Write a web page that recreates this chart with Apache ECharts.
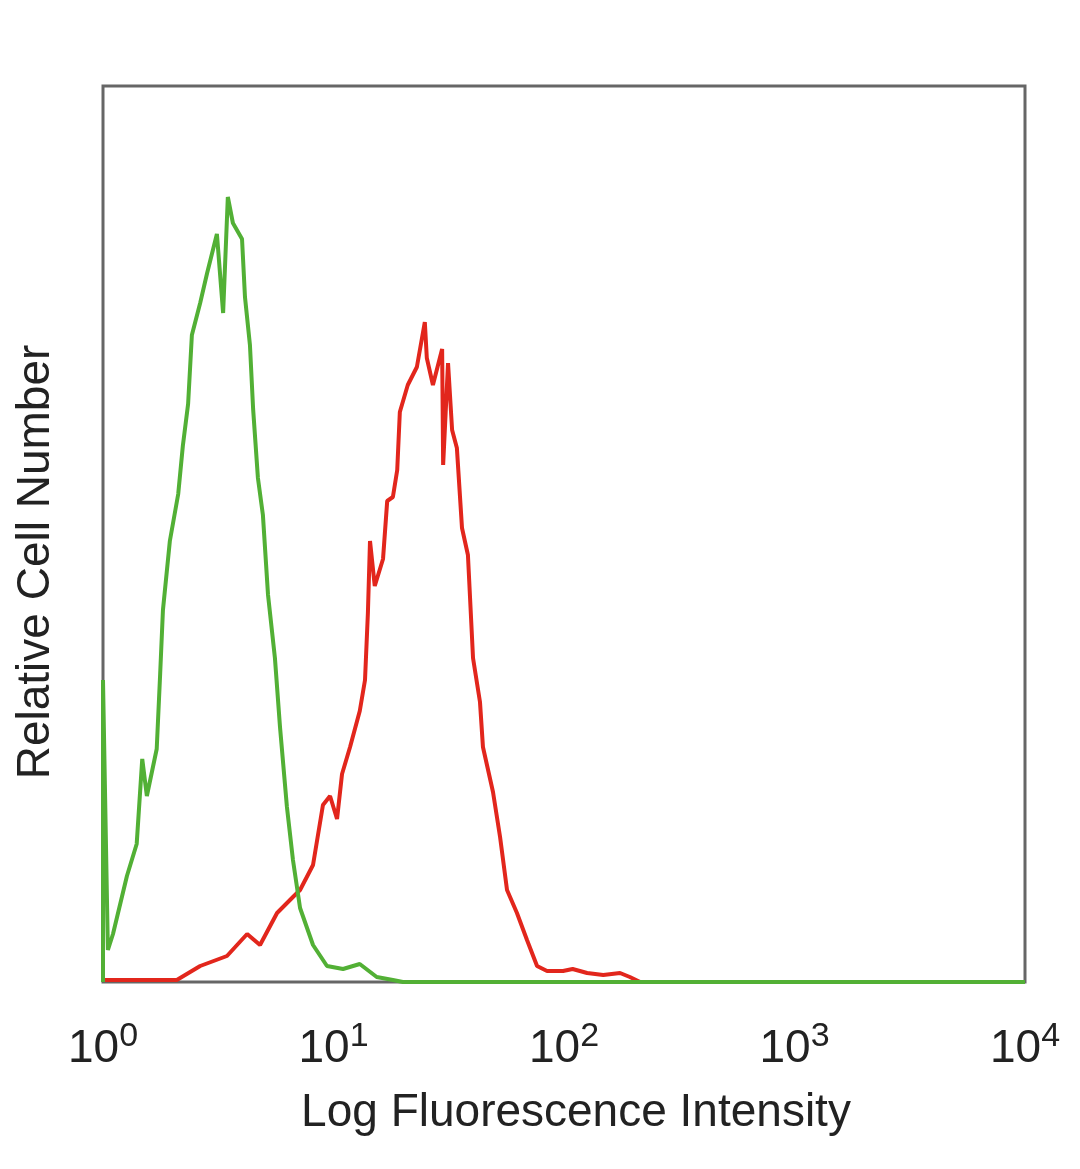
<!DOCTYPE html>
<html>
<head>
<meta charset="utf-8">
<script src="https://cdn.jsdelivr.net/npm/echarts@6/dist/echarts.min.js"></script>
<style>html,body{margin:0;padding:0;background:#fff}#c{width:1080px;height:1169px}</style>
</head>
<body>
<div id="c"></div>
<script>
// Fluorescence intensity (log scale) and relative cell counts
const tickLabels = ['10^0', '10^1', '10^2', '10^3', '10^4'];
const xTitle = 'Log Fluorescence Intensity';
const yTitle = 'Relative Cell Number';

const greenIntensity = [1.0, 1.0, 1.05, 1.105, 1.27, 1.40, 1.48, 1.55, 1.71, 1.77, 1.82, 1.95, 2.12, 2.22, 2.34, 2.43, 2.64, 2.83, 3.12, 3.32, 3.48, 3.66, 4.01, 4.13, 4.34, 4.48, 4.70, 4.94, 5.20, 5.57, 5.86, 6.28, 6.67, 7.16, 8.15, 9.37, 11.0, 13.0, 15.4, 18.1, 20, 10000];
const greenCounts    = [0, 302, 32, 48, 106, 138, 223, 186, 233, 308, 372, 441, 488, 536, 578, 647, 679, 709, 748, 669, 785, 759, 743, 685, 637, 573, 504, 467, 387, 324, 255, 175, 122, 74, 37, 16, 13, 18, 5, 2, 0, 0];

const redIntensity = [1.0, 2.09, 2.64, 3.45, 4.22, 4.80, 5.69, 6.67, 7.16, 8.15, 9.00, 9.66, 10.36, 10.89, 11.8, 13.0, 13.7, 14.1, 14.4, 15.1, 16.4, 17.1, 18.1, 18.9, 19.4, 21.0, 23.0, 24.9, 25.4, 27.0, 29.6, 29.9, 31.4, 32.7, 34.3, 36.1, 38.3, 40.3, 43.2, 44.5, 49.2, 52.8, 56.6, 62.5, 69.1, 76.4, 84.4, 99.0, 109, 126, 148, 175, 193, 214, 10000];
const redCounts    = [2, 2, 16, 26, 48, 37, 69, 85, 92, 117, 177, 186, 163, 208, 235, 271, 302, 369, 441, 396, 423, 481, 485, 512, 570, 597, 615, 660, 624, 597, 633, 517, 619, 552, 534, 454, 427, 324, 280, 235, 190, 145, 92, 69, 42, 16, 11, 11, 13, 9, 7, 9, 5, 0, 0];

const zip = (a, b) => a.map((v, i) => [v, b[i]]);

const chart = echarts.init(document.getElementById('c'));
const font = "'Liberation Sans', 'DejaVu Sans', sans-serif";
chart.setOption({
  animation: false,
  grid: { left: 103, right: 55, top: 86, bottom: 187, show: true, borderColor: '#666', borderWidth: 3, backgroundColor: 'transparent' },
  xAxis: {
    type: 'log', logBase: 10, min: 1, max: 10000,
    name: xTitle, nameLocation: 'middle', nameGap: 108,
    nameTextStyle: { fontFamily: font, fontSize: 46, color: '#222', padding: [0, 0, 0, 24] },
    axisLine: { show: false }, axisTick: { show: false }, splitLine: { show: false }, minorTick: {show:false},
    axisLabel: {
      margin: 38,
      formatter: v => { const e = Math.round(Math.log10(v)); const t = tickLabels[e] || ''; const p = t.split('^'); return '{b|' + p[0] + '}{s|' + p[1] + '}'; },
      rich: {
        b: { fontFamily: font, fontSize: 46, color: '#222' },
        s: { fontFamily: font, fontSize: 34, color: '#222', padding: [0, 0, 24, 0] }
      }
    }
  },
  yAxis: {
    type: 'value', min: 0, max: 896,
    name: yTitle, nameLocation: 'middle', nameGap: 44,
    nameTextStyle: { fontFamily: font, fontSize: 46, color: '#222', padding: [0, 56, 0, 0] },
    axisLine: { show: false }, axisTick: { show: false }, splitLine: { show: false }, axisLabel: { show: false }
  },
  series: [
    { type: 'line', data: zip(redIntensity, redCounts), symbol: 'none', lineStyle: { color: '#e2261c', width: 4 }, z: 2 },
    { type: 'line', data: zip(greenIntensity, greenCounts), symbol: 'none', lineStyle: { color: '#52b035', width: 4 }, z: 3 }
  ]
});
</script>
</body>
</html>
